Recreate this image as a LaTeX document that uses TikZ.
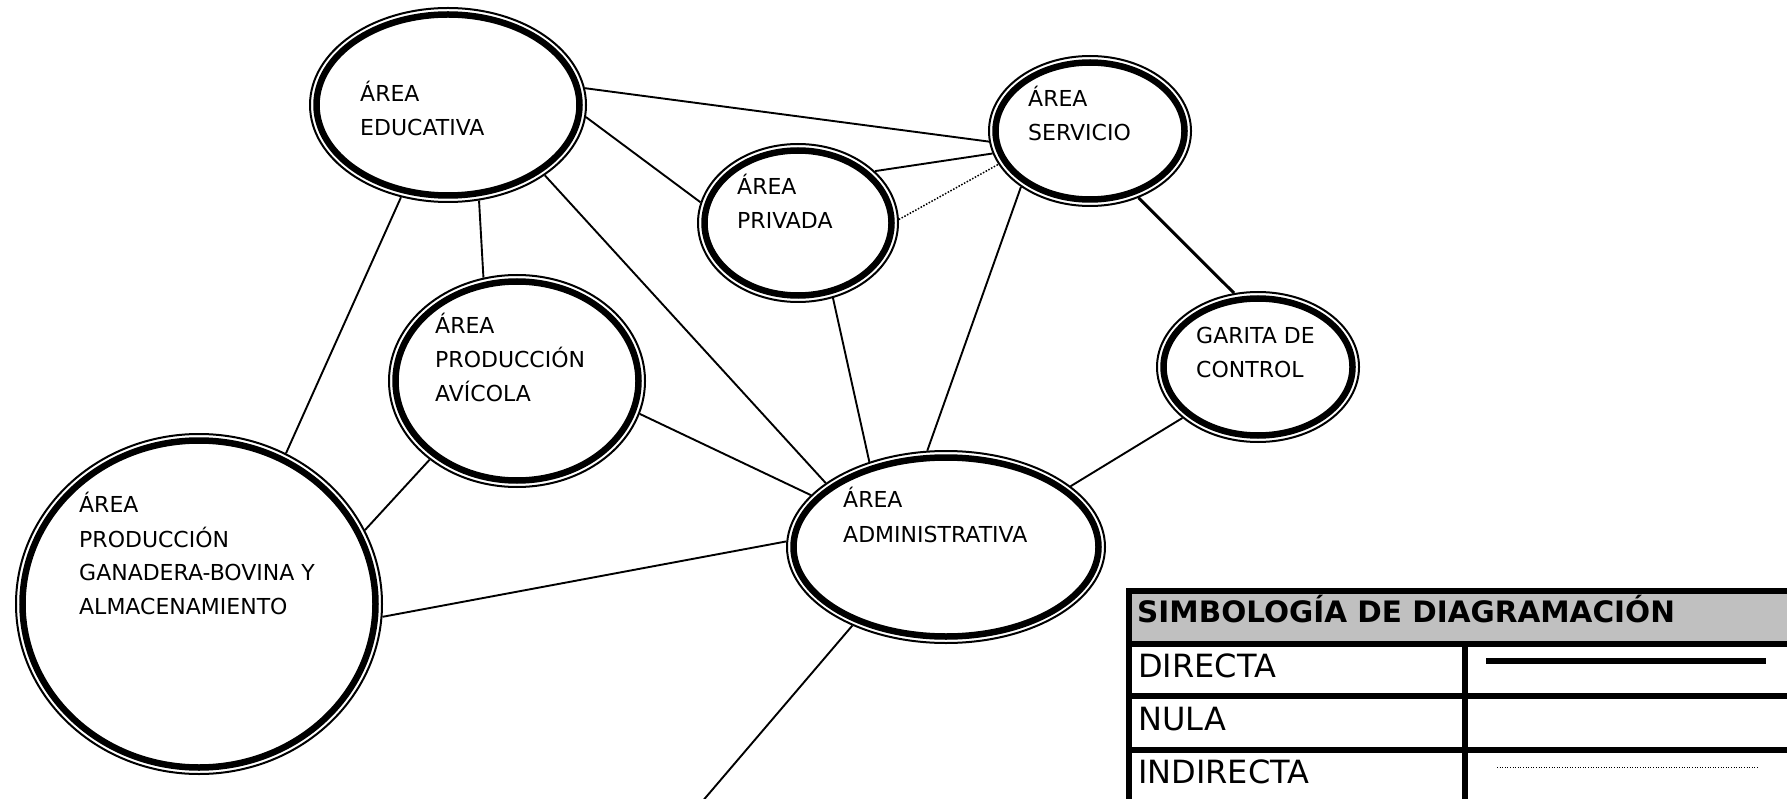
\documentclass[tikz,border=0pt]{standalone}
\usepackage{fontspec}
\setmainfont{DejaVu Sans}
\usetikzlibrary{shapes.geometric}
\definecolor{hdr}{HTML}{C0C0C0}
\tikzset{
  ringin/.style={ellipse, draw, line width=6.5pt, inner sep=0pt, outer sep=7.5pt},
  ringout/.style={draw, line width=2pt},
  conn/.style={line width=1.9pt},
  connthick/.style={line width=3pt},
  conndot/.style={line width=1.5pt, dash pattern=on 1.5pt off 1.6pt},
  lbl/.style={anchor=base west, inner sep=0pt, font=\fontsize{22}{25}\selectfont},
  hdrtxt/.style={anchor=base west, inner sep=0pt, font=\fontsize{29.5}{32}\selectfont\bfseries},
  rowtxt/.style={anchor=base west, inner sep=0pt, font=\fontsize{32}{36}\selectfont},
  grid/.style={line width=6pt},
  legsolid/.style={line width=5.5pt},
  legdot/.style={line width=1pt, dash pattern=on 1pt off 1.6pt}
}
\newcommand\ringnode[5]{%
  \node[ringin, minimum width={2*(#4-7.5)*1pt}, minimum height={2*(#5-7.5)*1pt}] (#1) at (#2,#3) {};
  \draw[ringout] (#1.center) ellipse [x radius={(#4-1)*1pt}, y radius={(#5-1)*1pt}];
}
\begin{document}
\begin{tikzpicture}[x=1pt,y=-1pt]
\useasboundingbox (0,0) rectangle (1787,799);
\clip (0,0) rectangle (1787,799);
\fill[white] (0,0) rectangle (1787,799);

% ellipses
\ringnode{edu}{448}{105}{139}{98}
\ringnode{serv}{1090}{131}{102}{76}
\ringnode{priv}{798}{223}{101}{80}
\ringnode{gar}{1258}{367}{102}{76}
\ringnode{avi}{517}{381}{129}{107}
\ringnode{gan}{199}{604}{184}{171}
\ringnode{adm}{946}{547}{160}{97}

% labels
\node[lbl] (edu1) at (360,102) {ÁREA};
\node[lbl] (edu2) at (360,136) {EDUCATIVA};
\node[lbl] (serv1) at (1028,107) {ÁREA};
\node[lbl] (serv2) at (1028,141) {SERVICIO};
\node[lbl] (priv1) at (737,195) {ÁREA};
\node[lbl] (priv2) at (737,229) {PRIVADA};
\node[lbl] (gar1) at (1196,343) {GARITA DE};
\node[lbl] (gar2) at (1196,377) {CONTROL};
\node[lbl] (avi1) at (435,334) {ÁREA};
\node[lbl] (avi2) at (435,367) {PRODUCCIÓN};
\node[lbl] (avi3) at (435,401) {AVÍCOLA};
\node[lbl] (gan1) at (79,512) {ÁREA};
\node[lbl] (gan2) at (79,547) {PRODUCCIÓN};
\node[lbl] (gan3) at (79,580) {GANADERA-BOVINA Y};
\node[lbl] (gan4) at (79,614) {ALMACENAMIENTO};
\node[lbl] (adm1) at (843,507) {ÁREA};
\node[lbl] (adm2) at (843,542) {ADMINISTRATIVA};

% connectors
\coordinate (out) at (695,810);
\draw[conn] (edu.7) -- (serv.186);
\draw[conn] (edu.355) -- (priv.168);
\draw[conn] (edu.288) -- (avi.108);
\draw[conn] (edu.243) -- (gan.60);
\draw[conn] (edu.324) -- (adm.152);
\draw[conn] (priv.34) -- (serv.193);
\draw[conndot] (priv.2) -- (serv.200);
\draw[conn] (priv.295) -- (adm.132);
\draw[conn] (serv.219) -- (adm.101);
\draw[connthick] (serv.306) -- (gar.108);
\draw[conn] (avi.222) -- (gan.24);
\draw[conn] (avi.345) -- (adm.159);
\draw[conn] (gan.356) -- (adm.178);
\draw[conn] (gar.214) -- (adm.26);
\draw[conn] (adm.220) -- (out);

% legend table
\fill[hdr] (1129,591) rectangle (1800,644);
\draw[grid] (1800,591) -- (1129,591) -- (1129,810);
\draw[grid] (1129,644) -- (1800,644);
\draw[grid] (1129,696) -- (1800,696);
\draw[grid] (1129,750) -- (1800,750);
\draw[grid] (1465,644) -- (1465,810);
\node[hdrtxt] (hdr) at (1137,622) {SIMBOLOGÍA DE DIAGRAMACIÓN};
\node[rowtxt] (r1) at (1138,677) {DIRECTA};
\node[rowtxt] (r2) at (1138,730) {NULA};
\node[rowtxt] (r3) at (1138,783) {INDIRECTA};
\draw[legsolid] (1486,661) -- (1766,661);
\draw[legdot] (1497,767) -- (1758,767);
\end{tikzpicture}
\end{document}
